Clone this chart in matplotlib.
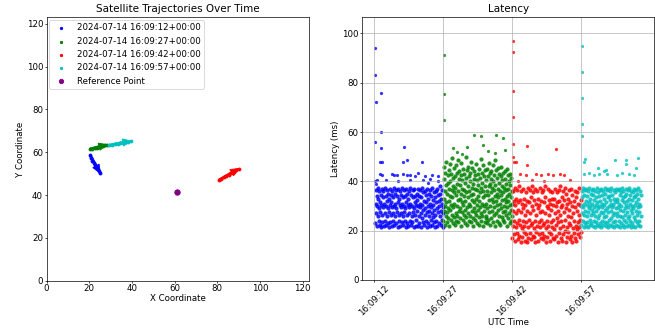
import numpy as np
import pandas as pd
import matplotlib
matplotlib.use('Agg')
import matplotlib.pyplot as plt
import matplotlib.dates as mdates

# 图例标签 / 时间段
labels = ['2024-07-14 16:09:12+00:00', '2024-07-14 16:09:27+00:00',
          '2024-07-14 16:09:42+00:00', '2024-07-14 16:09:57+00:00']
colors = ['b', 'g', 'r', 'c']

# 卫星轨迹 (X, Y)
blue_x = [20.5, 21.0, 21.5, 22.2, 22.8, 23.4, 24.0, 24.5, 25.0]
blue_y = [58.5, 57.2, 56.0, 55.0, 54.0, 53.0, 52.0, 51.2, 50.3]
green_x = [20.5, 21.5, 22.5, 23.5, 24.5, 25.5, 26.5, 27.5, 28.3]
green_y = [61.5, 61.7, 62.0, 62.2, 62.5, 62.8, 63.0, 63.3, 63.6]
cyan_x = [29.5, 30.8, 32.0, 33.3, 34.5, 35.8, 37.0, 38.3, 39.5]
cyan_y = [63.3, 63.5, 63.8, 64.0, 64.3, 64.5, 64.8, 65.0, 65.3]
red_x = [80.7, 81.8, 83.0, 84.2, 85.3, 86.5, 87.7, 88.8, 90.0]
red_y = [46.9, 47.6, 48.3, 49.0, 49.6, 50.3, 51.0, 51.7, 52.4]
ref_x, ref_y = 61.0, 41.2

# 延迟数据: 每段起止秒 (16:09:00 之后)
block_start = [12.2, 27.0, 42.0, 57.0]
block_end = [27.0, 42.0, 57.0, 70.0]
tick_sec = [12, 27, 42, 57]

blue_core = [
    23, 31, 36.5, 27, 34, 22, 30, 37.5, 26, 33, 24, 29, 36, 22.5, 31.5, 27.5, 34.5, 21.5, 30.5, 37,
    26.5, 23.5, 33.5, 29.5, 36, 22, 31, 27, 37.5, 24, 34, 30, 22.5, 36.5, 26, 32, 23, 29, 35, 27.5,
    21.5, 33, 30.5, 37, 23.5, 26.5, 34.5, 31.5, 22, 36, 29.5, 27, 24, 33.5, 37.5, 30, 22.5, 26, 35, 31,
    23, 36.5, 29, 27.5, 34, 21.5, 31.5, 37, 26.5, 33, 24, 30.5, 22, 36, 27, 34.5, 29.5, 23.5, 37.5, 31,
    26, 33.5, 22.5, 30, 36.5, 27.5, 24, 34, 29, 21.5, 37, 31.5, 26.5, 23, 35, 30.5, 22, 33, 27, 36,
    29.5, 24, 37.5, 31, 22.5, 34.5, 26, 30, 23.5, 36.5, 27.5, 33.5, 21.5, 29, 37, 31.5, 26.5, 34, 22, 30.5,
    24.5, 35, 28, 32.5, 22, 37, 30, 26, 34, 23, 29.5, 36.5, 31, 21.5, 27, 33.5, 25, 37.5, 30.5, 23.5,
    35.5, 28.5, 22.5, 32, 26.5, 36, 29, 24, 34.5, 31.5, 21.5, 27.5, 37, 30, 23, 33, 26, 35, 28, 22,
    36.5, 31, 24.5, 29.5, 34, 22.5, 27, 37.5, 32.5, 25.5, 30.5, 23.5, 35.5, 28.5, 21.5, 33.5, 26.5, 36, 31.5, 24,
    29, 37, 22, 34.5, 27.5, 32, 23, 30, 35, 26, 38, 28, 22.5, 33, 36.5, 24.5, 31, 29.5, 21.5, 27]
green_core = [
    24, 33, 41, 28, 46, 22.5, 36, 30, 43.5, 26, 38.5, 31.5, 48, 23.5, 35, 27.5, 42.5, 29, 39.5, 25,
    44.5, 32, 37, 22, 47, 34, 28.5, 40, 24.5, 43, 30.5, 36.5, 26.5, 49.5, 33.5, 23, 41.5, 38, 29.5, 45.5,
    25.5, 35.5, 31, 42, 22.5, 37.5, 27, 46.5, 34.5, 24, 39, 30, 43.5, 26, 48.5, 32.5, 36, 23.5, 41, 28,
    44, 33, 38.5, 25, 29, 47.5, 35, 22, 42.5, 31.5, 37, 27.5, 40.5, 24.5, 45, 30.5, 34, 26.5, 43, 36.5,
    23, 39.5, 32, 28.5, 50, 25.5, 41.5, 35.5, 29.5, 44.5, 22.5, 38, 33.5, 27, 46, 31, 24, 42, 36, 30,
    40, 26, 43.5, 34.5, 23.5, 48, 37.5, 28, 32.5, 45.5, 25, 39, 22, 35, 41, 29, 44, 31.5, 27.5, 37,
    24.5, 42.5, 33, 47, 26.5, 36.5, 30.5, 40.5, 23, 43, 34, 28.5, 38.5, 25.5, 45, 32, 22.5, 41.5, 35.5, 29.5,
    49, 27, 37.5, 24, 43.5, 31, 39.5, 26, 33.5, 46.5, 22, 36, 30, 42, 28, 44.5, 34.5, 23.5, 38, 25,
    26, 40.5, 31, 45, 23, 36, 29, 42, 34.5, 24.5, 47.5, 38, 27.5, 32.5, 43.5, 22.5, 39, 30, 35.5, 41,
    25, 44, 33, 28, 37.5, 46.5, 23.5, 40, 31.5, 36.5, 26.5, 42.5, 29.5, 34, 48.5, 22, 38.5, 32, 44.5, 27,
    35, 24, 41.5, 30.5, 37, 45.5, 28.5, 33.5, 23, 39.5, 26, 43, 31, 36, 22.5, 42, 34.5, 29, 46, 25.5,
    38, 32.5, 40.5, 24.5, 35.5, 27.5, 43.5, 30, 37.5, 23.5, 44, 33, 28, 41, 36.5, 26.5, 39, 31.5, 22, 34,
    45, 29.5, 42.5, 25, 37, 32, 40, 27, 35, 23, 43, 30.5, 38.5, 24, 33.5, 28.5, 41.5, 36, 26, 31]
red_core = [
    17, 28, 36, 22, 32, 18.5, 24, 37.5, 16, 30.5, 27, 21.5, 33, 19, 36.5, 23, 31.5, 16.5, 28.5, 24.5,
    38, 18, 22.5, 32.5, 15.5, 27.5, 36, 21, 31, 17.5, 24, 37, 29, 19.5, 33, 22, 16, 30.5, 26.5, 35.5,
    18.5, 23.5, 32, 15.5, 28, 37.5, 21.5, 17, 31.5, 24.5, 36.5, 19, 27, 22.5, 33.5, 16.5, 30, 38, 23, 18,
    28.5, 35.5, 21, 32.5, 17.5, 24, 37, 15.5, 31, 26.5, 19.5, 22, 36, 29, 16, 33, 23.5, 18.5, 30.5, 37.5,
    21.5, 27.5, 17, 32, 24.5, 35.5, 19, 28, 22.5, 16.5, 36.5, 31.5, 23, 18, 33.5, 27, 38, 21, 15.5, 30,
    24, 17.5, 37, 29, 22, 32.5, 19.5, 26.5, 36, 16, 31, 23.5, 18.5, 28.5, 35.5, 21.5, 33, 17, 24.5, 30.5,
    20.5, 33, 16.5, 27, 37, 22.5, 30, 18, 35.5, 25, 31.5, 15.5, 28, 23.5, 36.5, 19, 32, 21, 26.5, 38,
    17, 29.5, 24, 33.5, 16, 30.5, 22, 36, 18.5, 27.5, 32.5, 20, 37.5, 24.5, 15.5, 29, 35, 21.5, 31, 17.5,
    26, 33, 19.5, 23, 36.5, 28.5, 16.5, 31.5, 22.5, 37, 18, 25.5, 30, 15.5, 34.5, 21, 27, 19, 32, 24,
    36, 17, 29.5, 22, 33.5, 16, 28, 20.5, 35.5, 23.5, 31, 18.5, 26.5, 37.5, 21.5, 30.5, 17.5, 24.5, 32.5, 19.5]
cyan_core = [
    30, 22.5, 36, 27, 33.5, 24, 37.5, 29.5, 21.5, 34.5, 26.5, 31, 23, 36.5, 28, 32, 22, 37, 26, 30.5,
    34, 23.5, 27.5, 36, 21.5, 31.5, 29, 37.5, 24.5, 33, 22.5, 30, 26.5, 35, 23, 28.5, 36.5, 31, 22, 34.5,
    27, 37, 29.5, 24, 32.5, 21.5, 36, 26, 30.5, 23.5, 33.5, 28, 37.5, 22.5, 31.5, 25, 35.5, 29, 22, 34,
    26.5, 30, 36.5, 23, 32, 27.5, 37, 21.5, 29.5, 34.5, 24, 31, 22.5, 36, 27, 33, 25.5, 30.5, 37.5, 23.5,
    28.5, 35, 22, 31.5, 26, 36.5, 29, 23, 33.5, 37, 27.5, 21.5, 30, 34, 24.5, 32.5, 22.5, 36, 28, 31,
    25, 37.5, 29.5, 22, 34.5, 26.5, 30.5, 23.5, 36.5, 27, 33, 21.5, 31.5, 35.5, 24, 29, 37, 22.5, 32, 26,
    27, 33, 22, 36.5, 29.5, 24, 31, 37, 26, 34.5, 21.5, 28.5, 35.5, 23, 30, 32.5, 25.5, 37.5, 22.5, 33.5,
    28, 36, 24.5, 31.5, 21.5, 29, 34, 26.5, 37, 23.5, 30.5, 35, 22, 27.5, 32, 36.5, 25, 29.5, 33, 22.5,
    37.5, 26, 31, 24, 34.5, 28.5, 21.5, 36, 30, 23, 32.5, 27, 35.5, 22, 29, 33.5, 25.5, 37, 30.5, 24.5,
    34, 21.5, 28, 36.5, 31.5, 23.5, 26.5, 35, 29.5, 22.5, 33, 37.5, 27.5, 24, 31, 36, 22, 30, 34.5, 26]

# 离群点 (秒, 延迟)
blue_out_t = [12.2, 12.2, 12.3, 13.5, 12.2, 13.5, 12.2, 12.3, 13.5, 18.5, 13.3, 13.6, 18.3, 19.1, 22.3,
              13.3, 13.7, 15.8, 16.2, 17.0, 18.3, 19.2, 19.8, 20.9, 21.6, 23.0, 24.5, 25.9,
              12.6, 22.5, 24.0, 19.8, 14.6, 17.2, 25.8, 23.6]
blue_out_l = [94, 83, 72, 76, 56, 60, 40, 39, 53.7, 54, 48, 48, 48, 48.5, 48,
              43, 42.5, 43, 42.5, 42.5, 43, 42.5, 42.5, 42, 43.5, 42, 42.5, 42,
              40.5, 40.5, 41, 40.5, 40.5, 40, 40, 39.5]
green_out_t = [27.2, 27.2, 27.1, 33.6, 35.3, 38.5, 39.9, 35.6, 29.1, 29.9, 32.1, 38.3, 40.5, 31.0, 36.8]
green_out_l = [91.2, 75.3, 64.9, 58.8, 58.4, 58.8, 57.4, 54.6, 53.4, 52.1, 54.0, 51.5, 52.8, 51.0, 52.5]
red_out_t = [42.1, 42.1, 42.2, 42.1, 42.2, 42.2, 42.4, 42.9, 45.2, 45.3, 51.5,
             43.6, 45.0, 47.2, 48.3, 49.7, 50.8, 52.3, 53.3, 43.2, 46.3, 49.0, 54.5]
red_out_l = [96.8, 92.5, 76.6, 65.9, 55.1, 50.0, 48.0, 48.0, 54.3, 46.6, 53.1,
             43, 42.5, 43, 42.5, 43, 42.5, 43, 42.5, 40, 40.5, 40, 40.5]
cyan_out_t = [57.1, 57.1, 57.1, 57.2, 57.1, 57.8, 57.7, 60.6, 62.4, 64.4, 66.8, 66.8, 69.4, 68.9,
              57.6, 58.7, 59.8, 60.9, 62.0, 62.7, 64.9, 66.0, 67.4, 68.5]
cyan_out_l = [95.0, 84.4, 73.9, 63.2, 58.4, 48.9, 47.8, 45.5, 44.6, 48.5, 48.5, 47.2, 49.3, 45.6,
              43, 43.5, 42.5, 43, 44, 43, 42.5, 43.5, 43, 42.5]

base = pd.Timestamp('2024-07-14 16:09:00')


def to_time(sec):
    return base + pd.to_timedelta(np.asarray(sec, dtype=float), unit='s')


fig = plt.figure(figsize=(655 / 62, 329 / 62), dpi=62)
ax1 = fig.add_axes([0.071, 0.147, 0.401, 0.800])
ax2 = fig.add_axes([0.5527, 0.149, 0.446, 0.798])

# 左图: 卫星轨迹
traj = [(blue_x, blue_y), (green_x, green_y), (red_x, red_y), (cyan_x, cyan_y)]
for (xs, ys), c, lab in zip(traj, colors, labels):
    ax1.scatter(xs, ys, c=c, s=12, label=lab)
    ax1.arrow(xs[0], ys[0], xs[-1] - xs[0], ys[-1] - ys[0], color=c, width=1.0,
              head_width=3.4, head_length=3.8, length_includes_head=True)
ax1.scatter(ref_x, ref_y, c='purple', s=40, label='Reference Point')
ax1.set_xlim(0, 123)
ax1.set_ylim(0, 123)
ax1.set_xticks(range(0, 121, 20))
ax1.set_yticks(range(0, 121, 20))
ax1.set_title('Satellite Trajectories Over Time')
ax1.set_xlabel('X Coordinate', labelpad=1)
ax1.set_ylabel('Y Coordinate', labelpad=2)
ax1.legend(loc='upper left', borderaxespad=0.3, markerscale=0.8)

# 右图: 延迟
cores = [blue_core, green_core, red_core, cyan_core]
outs = [(blue_out_t, blue_out_l), (green_out_t, green_out_l),
        (red_out_t, red_out_l), (cyan_out_t, cyan_out_l)]
all_lat = []
for core, (ot, ol), t0, t1, c in zip(cores, outs, block_start, block_end, colors):
    ts = np.linspace(t0, t1, len(core))
    ax2.scatter(to_time(ts), core, c=c, s=24, alpha=0.85, linewidths=0)
    ax2.scatter(to_time(ot), ol, c=c, s=14, alpha=0.8, linewidths=0)
    all_lat += list(core) + list(ol)

ax2.set_ylim(0, max(all_lat) * 1.1)
ax2.set_xticks(to_time(tick_sec))
ax2.xaxis.set_major_formatter(mdates.DateFormatter('%H:%M:%S'))
plt.setp(ax2.get_xticklabels(), rotation=45)
ax2.grid(True)
ax2.set_title('Latency')
ax2.set_xlabel('UTC Time', labelpad=1)
ax2.set_ylabel('Latency (ms)', labelpad=2)

for ax in (ax1, ax2):
    ax.tick_params(length=2.5, pad=1.5)

fig.savefig('out.png', dpi=62)
